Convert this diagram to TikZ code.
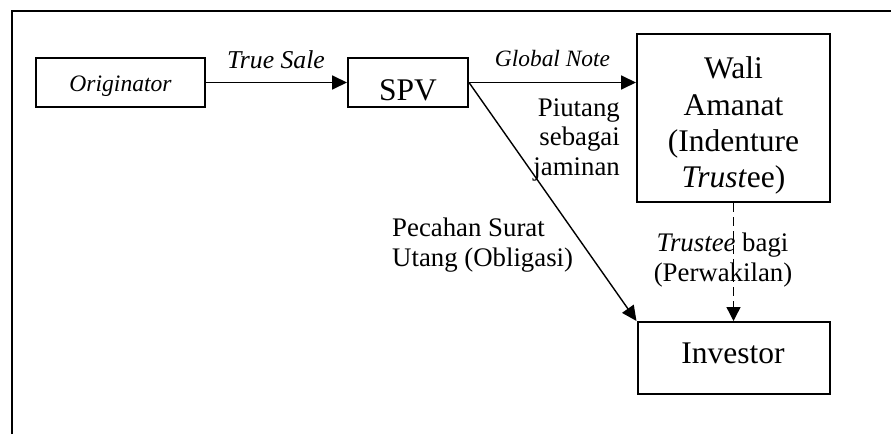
\documentclass[tikz,border=0pt]{standalone}
\usepackage{fontspec}
\setmainfont{Liberation Serif}
\usetikzlibrary{arrows.meta}
\begin{document}
\begin{tikzpicture}[x=1pt,y=-1pt,
  box/.style={draw,line width=2pt,inner sep=0pt},
  txt/.style={inner sep=0pt,anchor=base},
  bigfont/.style={font=\fontsize{31.5}{36.5}\selectfont},
  lblfont/.style={font=\fontsize{26.8}{30}\selectfont},
  arr/.style={line width=1.8pt,-{Triangle[length=15pt,width=14pt]}},
  thinarr/.style={line width=1.4pt,-{Triangle[length=15pt,width=14pt]}},
  dasharr/.style={line width=1.4pt,dash pattern=on 9pt off 5pt,-{Triangle[length=14pt,width=14pt]}},
]
\useasboundingbox (0,0) rectangle (891,434);
\draw[line width=2pt] (11.5,434) -- (11.5,10.5) -- (891,10.5);

% boxes
\node[box,minimum width=169pt,minimum height=49pt] (orig) at (120.5,82.5) {};
\node[box,minimum width=120pt,minimum height=49pt] (spv) at (408,82.5) {};
\node[box,minimum width=193pt,minimum height=168pt] (wali) at (733.5,118) {};
\node[box,minimum width=192pt,minimum height=72pt] (inv) at (733.5,358) {};

% box texts
\node[txt,font=\itshape\fontsize{23.6}{28}\selectfont] (origt) at (120.5,91.5) {Originator};
\node[txt,bigfont] (spvt) at (408,100) {SPV};
\node[txt,bigfont] (wali1) at (733.5,78) {Wali};
\node[txt,bigfont] (wali2) at (733.5,115) {Amanat};
\node[txt,bigfont] (wali3) at (733.5,151) {(Indenture};
\node[txt,bigfont] (wali4) at (733.5,187) {\textit{Trust}ee)};
\node[txt,bigfont] (invt) at (733,363) {Investor};

% connectors
\draw[arr] (orig.east) -- (spv.west);
\draw[arr] (spv.east) -- (wali.west |- spv.east);
\draw[thinarr] (spv.east) -- (inv.north west);
\draw[dasharr] (wali.south) -- (inv.north);

% labels
\node[txt,font=\itshape\fontsize{25.7}{30}\selectfont] (ts) at (276,68) {True Sale};
\node[txt,font=\itshape\fontsize{23.4}{28}\selectfont] (gn) at (552.5,66.7) {Global Note};
\node[txt,lblfont,anchor=base east] (pj1) at (620,116.5) {Piutang};
\node[txt,lblfont,anchor=base east] (pj2) at (620,145.5) {sebagai};
\node[txt,lblfont,anchor=base east] (pj3) at (620,175) {jaminan};
\node[txt,lblfont,anchor=base west] (ps1) at (392,236.5) {Pecahan Surat};
\node[txt,lblfont,anchor=base west] (ps2) at (392,266.5) {Utang (Obligasi)};
\node[txt,lblfont] (tb1) at (722.5,251.7) {\textit{Trustee} bagi};
\node[txt,lblfont] (tb2) at (723,281.7) {(Perwakilan)};
\end{tikzpicture}
\end{document}
